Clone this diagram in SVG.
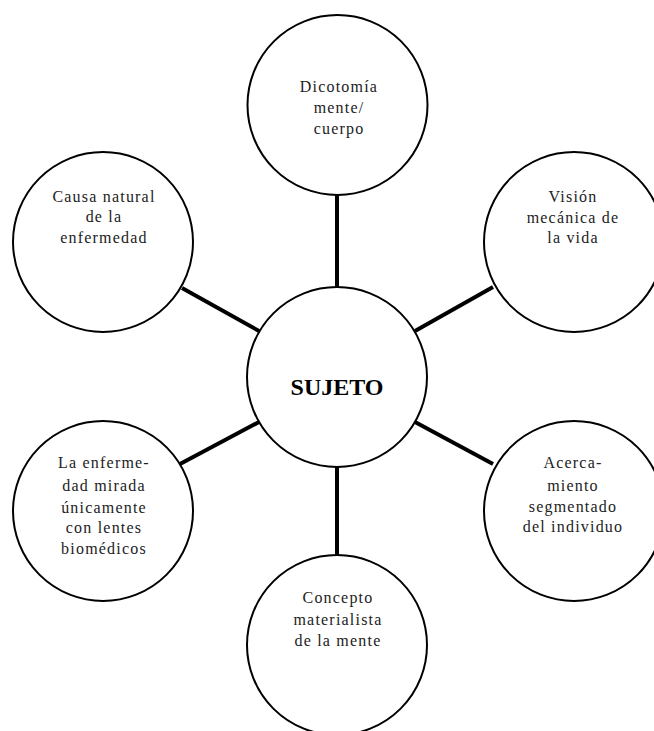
<svg xmlns="http://www.w3.org/2000/svg" width="654" height="731" viewBox="0 0 654 731">
<style>
.node{fill:#fff;stroke:#000;stroke-width:2}
.lbl{font-family:"Liberation Serif","Times New Roman",serif;font-size:16px;letter-spacing:1.2px;fill:#222;text-anchor:middle}
.main{font-family:"Liberation Serif","Times New Roman",serif;font-size:24px;font-weight:bold;fill:#000;text-anchor:middle}
.conn{stroke:#000;stroke-width:4;fill:none}
</style>
<rect width="654" height="731" fill="#fff"/>
<g id="connectors">
<line class="conn" x1="337" y1="195" x2="337" y2="288"/>
<line class="conn" x1="337" y1="466" x2="337" y2="556"/>
<line class="conn" x1="182" y1="288" x2="259" y2="331"/>
<line class="conn" x1="493" y1="287" x2="415" y2="331"/>
<line class="conn" x1="415" y1="422" x2="493" y2="464"/>
<line class="conn" x1="259" y1="422" x2="180" y2="464"/>
</g>
<g id="n-center">
<circle class="node" cx="337" cy="377" r="90"/>
<text class="main" x="337" y="395">SUJETO</text>
</g>
<g id="n-top">
<circle class="node" cx="337.5" cy="105" r="90"/>
<text class="lbl" x="339" y="92">Dicotomía</text>
<text class="lbl" x="339" y="113">mente/</text>
<text class="lbl" x="339" y="134">cuerpo</text>
</g>
<g id="n-topright">
<circle class="node" cx="574" cy="242" r="90"/>
<text class="lbl" x="573" y="202">Visión</text>
<text class="lbl" x="573" y="223">mecánica de</text>
<text class="lbl" x="573" y="243">la vida</text>
</g>
<g id="n-topleft">
<circle class="node" cx="103" cy="242" r="90"/>
<text class="lbl" x="104" y="202">Causa natural</text>
<text class="lbl" x="104" y="222">de la</text>
<text class="lbl" x="104" y="243">enfermedad</text>
</g>
<g id="n-bottomleft">
<circle class="node" cx="103" cy="511" r="90"/>
<text class="lbl" x="104" y="468">La enferme-</text>
<text class="lbl" x="104" y="491">dad mirada</text>
<text class="lbl" x="104" y="513">únicamente</text>
<text class="lbl" x="104" y="533">con lentes</text>
<text class="lbl" x="104" y="554">biomédicos</text>
</g>
<g id="n-bottomright">
<circle class="node" cx="574" cy="511" r="90"/>
<text class="lbl" x="573" y="468">Acerca-</text>
<text class="lbl" x="573" y="491">miento</text>
<text class="lbl" x="573" y="512">segmentado</text>
<text class="lbl" x="573" y="532">del individuo</text>
</g>
<g id="n-bottom">
<circle class="node" cx="337" cy="645" r="90"/>
<text class="lbl" x="338" y="603">Concepto</text>
<text class="lbl" x="338" y="625">materialista</text>
<text class="lbl" x="338" y="646">de la mente</text>
</g>
</svg>
